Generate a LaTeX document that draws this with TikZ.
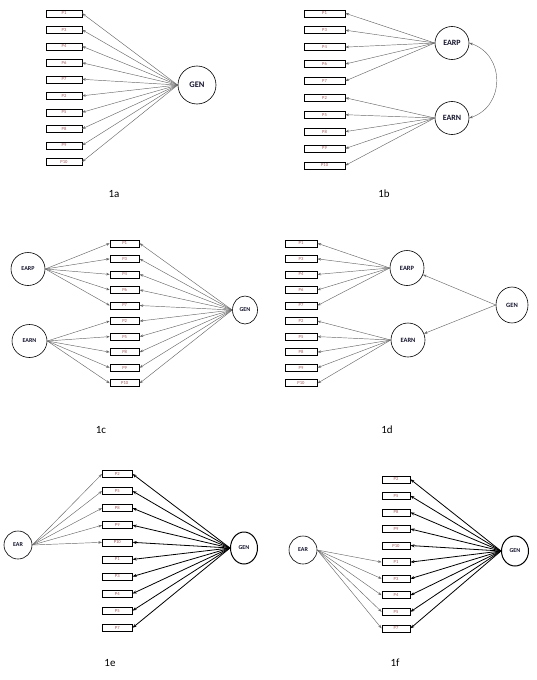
\documentclass[tikz,border=0pt]{standalone}
\usepackage{fontspec}
\setmainfont{Carlito}
\usetikzlibrary{shapes.geometric,arrows.meta}
\definecolor{lnk}{RGB}{105,105,105}
\definecolor{itxt}{RGB}{160,90,90}
\definecolor{ltxt}{RGB}{20,20,45}
\begin{document}
\begin{tikzpicture}[x=1pt,y=-1pt,
  item/.style={draw, line width=0.6pt, rectangle, minimum height=7pt, inner sep=0pt,
    font=\fontsize{4.6}{4.6}\selectfont, text=itxt},
  latent/.style={draw, ellipse, line width=0.6pt, inner sep=0pt, text=ltxt},
  lnk/.style={draw=lnk, line width=0.45pt, -{Stealth[length=3.6pt,width=2.6pt]}},
  blk/.style={draw=black, line width=0.8pt, -{Stealth[length=4pt,width=3pt]}},
  panellabel/.style={font=\fontsize{11}{11}\selectfont, text=black}
]
\useasboundingbox (0,0) rectangle (536,680);

% ---------------- 1a ----------------
\node[latent, minimum width=38pt, minimum height=38pt, font=\bfseries\fontsize{8.5}{8.5}\selectfont] (agen) at (197,85) {GEN};
\foreach \lab [count=\i] in {P1,P3,P4,P6,P7,P2,P5,P8,P9,P10}{
  \node[item, minimum width=35.7pt] (a\i) at (64,{13.3+16.5*(\i-1)}) {\lab};
  \draw[lnk] (agen.west) -- (a\i.east);
}
\node[panellabel] (la) at (114,194) {1a};

% ---------------- 1b ----------------
\node[latent, minimum width=34pt, minimum height=33pt, font=\bfseries\fontsize{8}{8}\selectfont] (bearp) at (452,43) {EARP};
\node[latent, minimum width=34pt, minimum height=33pt, font=\bfseries\fontsize{8}{8}\selectfont] (bearn) at (452,118) {EARN};
\foreach \lab [count=\i] in {P1,P3,P4,P6,P7}{
  \node[item, minimum width=41pt] (b\i) at (324.6,{13.3+16.9*(\i-1)}) {\lab};
  \draw[lnk] (bearp.west) -- (b\i.east);
}
\foreach \lab [count=\i from 6] in {P2,P5,P8,P9,P10}{
  \node[item, minimum width=41pt] (b\i) at (324.6,{13.3+16.9*(\i-1)}) {\lab};
  \draw[lnk] (bearn.west) -- (b\i.east);
}
\draw[draw=lnk, line width=0.45pt, {Stealth[length=3.6pt,width=2.6pt]}-{Stealth[length=3.6pt,width=2.6pt]}]
  (bearp.east) .. controls +(36,12) and +(36,-12) .. (bearn.east);
\node[panellabel] (lb) at (384,194) {1b};

% ---------------- 1c ----------------
\node[latent, minimum width=34pt, minimum height=33pt, font=\bfseries\fontsize{6}{6}\selectfont] (cearp) at (28,269) {EARP};
\node[latent, minimum width=35pt, minimum height=33pt, font=\bfseries\fontsize{6}{6}\selectfont] (cearn) at (29.5,341) {EARN};
\node[latent, minimum width=25pt, minimum height=28pt, font=\bfseries\fontsize{6}{6}\selectfont] (cgen) at (245,310) {GEN};
\foreach \lab [count=\i] in {P1,P3,P4,P6,P7,P2,P5,P8,P9,P10}{
  \node[item, minimum width=29.3pt] (c\i) at (124.7,{243.3+15.55*(\i-1)}) {\lab};
  \draw[lnk] (cgen.west) -- (c\i.east);
}
\foreach \i in {1,...,5}{ \draw[lnk] (cearp.east) -- (c\i.west); }
\foreach \i in {6,...,10}{ \draw[lnk] (cearn.east) -- (c\i.west); }
\node[panellabel] (lc) at (101,430) {1c};

% ---------------- 1d ----------------
\node[latent, minimum width=34pt, minimum height=35pt, font=\bfseries\fontsize{6.5}{6.5}\selectfont] (dearp) at (407,268) {EARP};
\node[latent, minimum width=34pt, minimum height=34pt, font=\bfseries\fontsize{6.5}{6.5}\selectfont] (dearn) at (408,340) {EARN};
\node[latent, minimum width=32pt, minimum height=36pt, font=\bfseries\fontsize{6.5}{6.5}\selectfont] (dgen) at (512,305) {GEN};
\foreach \lab [count=\i] in {P1,P3,P4,P6,P7}{
  \node[item, minimum width=32.3pt] (d\i) at (301,{243.3+15.55*(\i-1)}) {\lab};
  \draw[lnk] (dearp.west) -- (d\i.east);
}
\foreach \lab [count=\i from 6] in {P2,P5,P8,P9,P10}{
  \node[item, minimum width=32.3pt] (d\i) at (301,{243.3+15.55*(\i-1)}) {\lab};
  \draw[lnk] (dearn.west) -- (d\i.east);
}
\draw[lnk] (dgen.west) -- (dearp);
\draw[lnk] (dgen.west) -- (dearn);
\node[panellabel] (ld) at (387,430) {1d};

% ---------------- 1e ----------------
\node[latent, minimum width=28pt, minimum height=28pt, font=\bfseries\fontsize{6}{6}\selectfont] (eear) at (18,545) {EAR};
\node[latent, line width=1pt, minimum width=27pt, minimum height=32pt, font=\bfseries\fontsize{6}{6}\selectfont] (egen) at (244,548) {GEN};
\foreach \lab [count=\i] in {P2,P5,P8,P9,P10,P1,P3,P4,P5,P7}{
  \node[item, minimum width=30pt] (e\i) at (117.3,{474+17.08*(\i-1)}) {\lab};
  \draw[blk] (egen.west) -- (e\i.east);
}
\foreach \i in {1,...,5}{ \draw[lnk] (eear.east) -- (e\i.west); }
\node[panellabel] (le) at (110,663) {1e};

% ---------------- 1f ----------------
\node[latent, minimum width=28pt, minimum height=28pt, font=\bfseries\fontsize{6}{6}\selectfont] (fear) at (303,550) {EAR};
\node[latent, line width=1pt, minimum width=27pt, minimum height=30pt, font=\bfseries\fontsize{6}{6}\selectfont] (fgen) at (515,551) {GEN};
\foreach \lab [count=\i] in {P2,P5,P8,P9,P10,P1,P3,P4,P5,P7}{
  \node[item, minimum width=28.3pt] (f\i) at (396,{479.3+16.56*(\i-1)}) {\lab};
  \draw[blk] (fgen.west) -- (f\i.east);
}
\foreach \i in {6,...,10}{ \draw[lnk] (fear.east) -- (f\i.west); }
\node[panellabel] (lf) at (395,663) {1f};
\end{tikzpicture}
\end{document}
